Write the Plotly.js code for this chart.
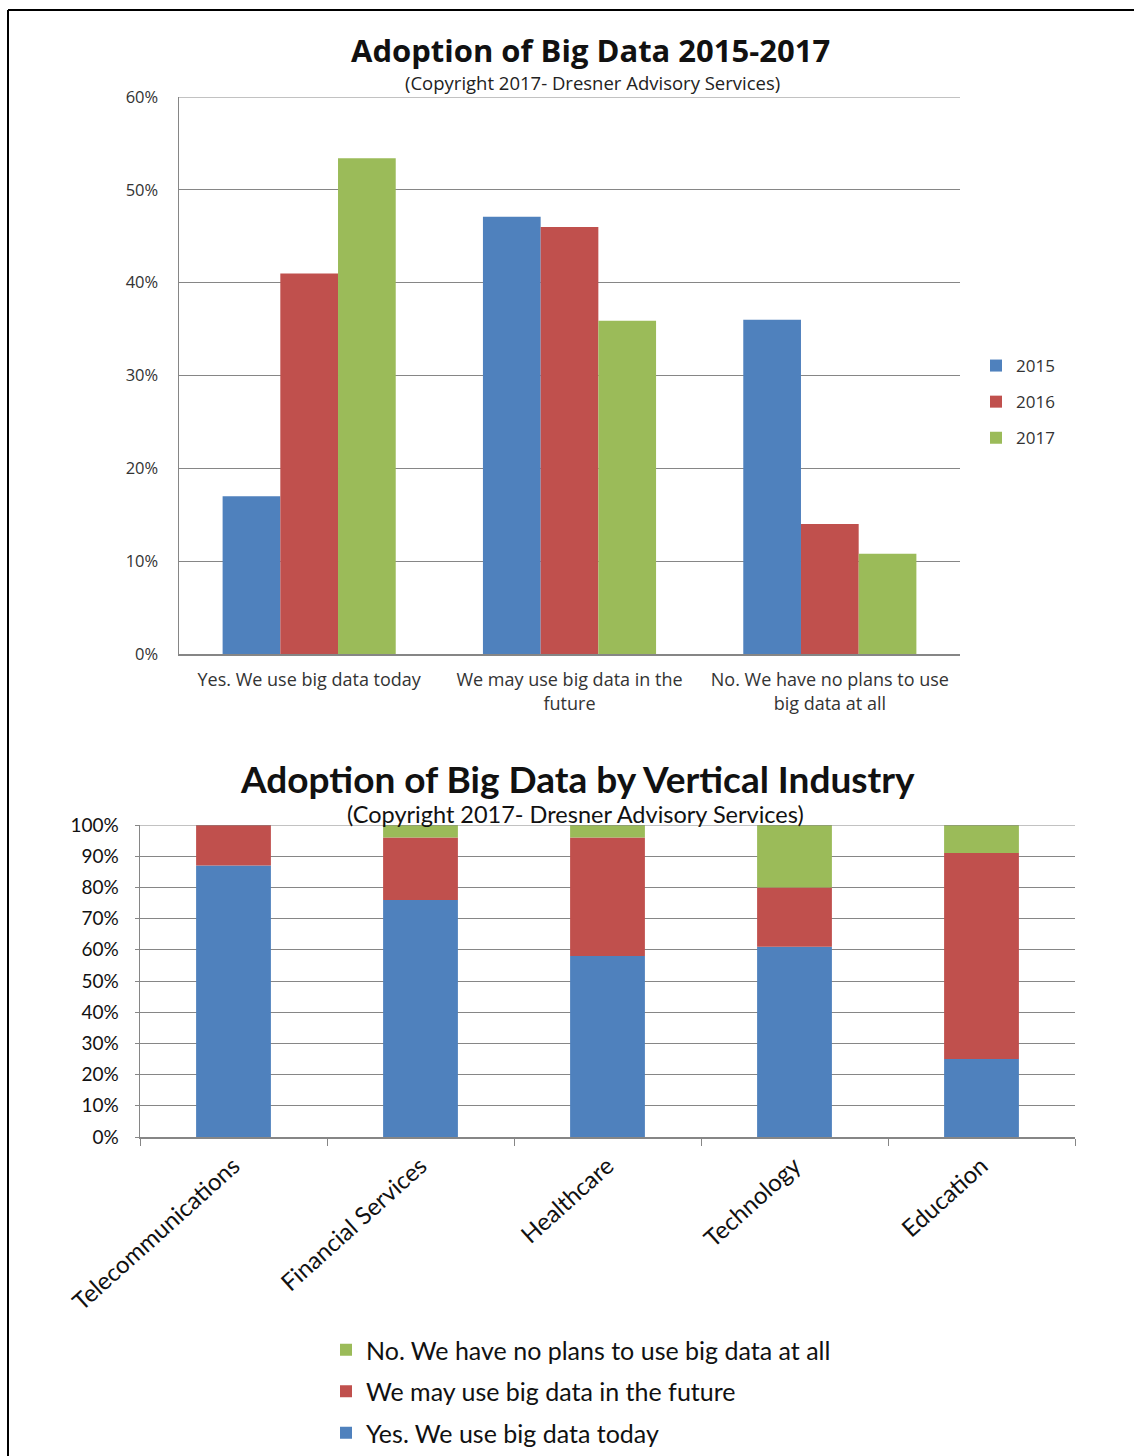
<!DOCTYPE html>
<html><head><meta charset="utf-8">
<script src="https://cdn.plot.ly/plotly-3.0.1.min.js"></script>
<style>html,body{margin:0;padding:0;background:#fff;overflow:hidden}#chart{width:1134px;height:1456px}</style>
</head><body><div id="chart"></div>
<script>
// Top chart data
var answerCats = ["Yes. We use big data today", "We may use big data in the<br>future", "No. We have no plans to use<br>big data at all"];
var years = ["2015", "2016", "2017"];
var v2015 = [17.0, 47.1, 36.0];
var v2016 = [41.0, 46.0, 14.0];
var v2017 = [53.4, 35.9, 10.8];
// Bottom chart data
var industries = ["Telecommunications", "Financial Services", "Healthcare", "Technology", "Education"];
var useToday = [87, 76, 58, 61, 25];
var mayUse = [13, 20, 38, 19, 66];
var noPlans = [0, 4, 4, 20, 9];
var topTicks = [0, 10, 20, 30, 40, 50, 60];
var topTickText = ["0%", "10%", "20%", "30%", "40%", "50%", "60%"];
var botTicks = [0, 10, 20, 30, 40, 50, 60, 70, 80, 90, 100];
var botTickText = ["0%", "10%", "20%", "30%", "40%", "50%", "60%", "70%", "80%", "90%", "100%"];

var BLUE = "#4F81BD", RED = "#C0504D", GREEN = "#9BBB59";
var W = 1134, H = 1456;
function px(x){return x/W;}
function py(y){return 1-y/H;}

var topSeries = [v2015, v2016, v2017];
var topColors = [BLUE, RED, GREEN];
var traces = [];
for (var i=0;i<3;i++){
  traces.push({type:"bar", x:answerCats, y:topSeries[i], name:years[i], marker:{color:topColors[i]},
    xaxis:"x", yaxis:"y", legend:"legend", legendgroup:"t"+i, hoverinfo:"skip"});
}
var botSeries = [useToday, mayUse, noPlans];
var botNames = ["Yes. We use big data today", "We may use big data in the future", "No. We have no plans to use big data at all"];
var botColors = [BLUE, RED, GREEN];
var botRanks = [3, 2, 1];
for (var j=0;j<3;j++){
  traces.push({type:"bar", x:industries, y:botSeries[j], name:botNames[j], marker:{color:botColors[j]},
    xaxis:"x2", yaxis:"y2", legend:"legend2", legendgroup:"b"+j, legendrank:botRanks[j], offsetgroup:"s", hoverinfo:"skip"});
}
// stack the bottom series (barmode is global, so stack with base)
var cum = [0,0,0,0,0];
for (var k=3;k<6;k++){
  traces[k].base = cum.slice();
  traces[k].width = 0.4;
  for (var m=0;m<5;m++) cum[m] += traces[k].y[m];
}

var topFont = "Open Sans, DejaVu Sans, sans-serif";
var botFont = "Lato, Open Sans, sans-serif";
var GRID = "#868686";
var layout = {
  width:W, height:H, margin:{l:0,r:0,t:0,b:0,autoexpand:false}, paper_bgcolor:"#fff", plot_bgcolor:"#fff",
  barmode:"group", bargap:0.335, bargroupgap:0,
  showlegend:true,
  xaxis:{domain:[px(179),px(960)], anchor:"y", showgrid:false, showline:true, linecolor:GRID, linewidth:1.5,
    ticks:"", ticklabelstandoff:9, tickfont:{family:topFont, size:18, color:"#333"}, fixedrange:true, tickangle:0},
  yaxis:{domain:[py(654),py(97)], anchor:"x", range:[0,60], tickvals:topTicks, ticktext:topTickText,
    showgrid:true, gridcolor:GRID, gridwidth:1, showline:true, linecolor:GRID, linewidth:1.5,
    zeroline:false, ticks:"", ticklabelstandoff:16, tickfont:{family:topFont, size:16.5, color:"#333"}},
  xaxis2:{domain:[px(140),px(1075)], anchor:"y2", showgrid:false, showline:true, linecolor:GRID, linewidth:1.5,
    ticks:"outside", tickson:"boundaries", ticklen:7, tickcolor:GRID, tickangle:-42, ticklabelstandoff:4,
    tickfont:{family:botFont, size:24, color:"#111"}},
  yaxis2:{domain:[py(1137),py(825)], anchor:"x2", range:[0,100], tickvals:botTicks, ticktext:botTickText,
    showgrid:true, gridcolor:GRID, gridwidth:1, showline:true, linecolor:GRID, linewidth:1.5,
    zeroline:false, ticks:"outside", ticklen:4, tickcolor:GRID, ticklabelstandoff:12, tickfont:{family:botFont, size:19, color:"#111"}},
  legend:{x:px(976), y:py(348), xanchor:"left", yanchor:"top", traceorder:"grouped", tracegroupgap:11,
    font:{family:topFont, size:17, color:"#333"}, bgcolor:"rgba(0,0,0,0)", itemwidth:30},
  legend2:{x:px(326), y:py(1327), xanchor:"left", yanchor:"top", traceorder:"grouped", tracegroupgap:6,
    font:{family:botFont, size:25, color:"#111"}, bgcolor:"rgba(0,0,0,0)", itemwidth:30},
  annotations:[
    {text:"<b>Adoption of Big Data 2015-2017</b>", xref:"paper", yref:"paper", x:px(590), y:py(50), xanchor:"center", yanchor:"middle", showarrow:false, font:{family:topFont, size:31, color:"#111"}},
    {text:"(Copyright 2017- Dresner Advisory Services)", xref:"paper", yref:"paper", x:px(592), y:py(82), xanchor:"center", yanchor:"middle", showarrow:false, font:{family:topFont, size:18.5, color:"#222"}},
    {text:"<b>Adoption of Big Data by Vertical Industry</b>", xref:"paper", yref:"paper", x:px(577), y:py(778), xanchor:"center", yanchor:"middle", showarrow:false, font:{family:botFont, size:37, color:"#111"}},
    {text:"(Copyright 2017- Dresner Advisory Services)", xref:"paper", yref:"paper", x:px(575), y:py(814), xanchor:"center", yanchor:"middle", showarrow:false, font:{family:botFont, size:23.5, color:"#111"}}
  ],
  shapes:[
    {type:"line", xref:"x domain", yref:"y", x0:0, x1:1, y0:60, y1:60, line:{color:GRID, width:1}},
    {type:"line", xref:"x2 domain", yref:"y2", x0:0, x1:1, y0:100, y1:100, line:{color:GRID, width:1}},
    {type:"line", xref:"paper", yref:"paper", x0:px(8), x1:1.01, y0:py(10), y1:py(10), line:{color:"#000", width:2}},
    {type:"line", xref:"paper", yref:"paper", x0:px(8), x1:px(8), y0:py(10), y1:-0.01, line:{color:"#000", width:2}}
  ]
};
Plotly.newPlot("chart", traces, layout, {staticPlot:true, displayModeBar:false});
</script></body></html>
